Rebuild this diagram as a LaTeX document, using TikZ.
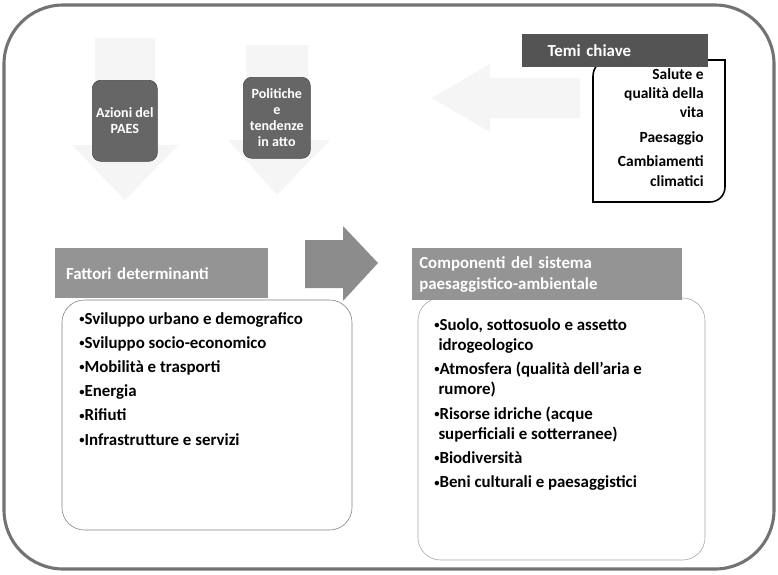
\documentclass[tikz,border=0pt]{standalone}
\usepackage{fontspec}
\setmainfont{Carlito}
\definecolor{framegray}{gray}{0.45}
\definecolor{hdrgray}{gray}{0.58}
\definecolor{arrowgray}{gray}{0.55}
\definecolor{darkbox}{gray}{0.40}
\definecolor{temigray}{gray}{0.33}
\definecolor{faintgray}{gray}{0.96}
\newcommand\bul{\raisebox{1.2pt}{\fontsize{7.5}{7.5}\selectfont •}}
\tikzset{
  header/.style={fill=hdrgray,anchor=north west,inner sep=4pt,text=white,
    font=\fontsize{12}{14}\selectfont\bfseries,align=left},
  bodytext/.style={anchor=north west,inner sep=0pt,align=left,
    font=\fontsize{12}{17.2}\selectfont\bfseries},
  smallbox/.style={fill=darkbox,draw=darkbox!70!black,rounded corners=6pt,anchor=north west,
    text=white,align=center,font=\fontsize{10}{11.4}\selectfont\bfseries,inner sep=1pt}
}
\begin{document}
\begin{tikzpicture}[x=0.025cm,y=-0.025cm]
  \useasboundingbox (0,0) rectangle (778,574);
  \fill[white] (0,0) rectangle (778,574);
  % outer frame
  \draw[framegray,line width=2.2pt,rounded corners=42pt] (4,5) rectangle (774,569);
  % faint arrows behind the small boxes
  \def \Faint{
    95/155/72/178/38/145/200,
    246/308/228/330/45/140/195}
  \foreach \l / \r / \bl / \br / \t / \h / \tip in \Faint{
    \fill[faintgray] (\l,\t) -- (\r,\t) -- (\r,\h) -- (\br,\h) -- ({(\l+\r)/2},\tip)
      -- (\bl,\h) -- (\l,\h) -- cycle;
  }
  \fill[faintgray] (580,78) -- (490,78) -- (490,64) -- (432,98) -- (490,132) -- (490,118)
    -- (580,118) -- cycle;
  % small boxes
  \node[smallbox,minimum width=1.625cm,minimum height=2.025cm] (azioni) at (92,80)
    {Azioni del\\PAES};
  \node[smallbox,minimum width=1.675cm,minimum height=2.025cm] (politiche) at (243,77)
    {Politiche\\e\\tendenze\\in atto};
  % temi chiave
  \draw[black,line width=1.1pt,fill=white] (593,76) -- (593,202) -- (710,202)
    to[out=0,in=270] (725,187) -- (725,60) -- (609,60) to[out=180,in=90] cycle;
  \node[header,fill=temigray,minimum width=4.65cm,minimum height=0.825cm,
    inner sep=0pt,text width=4.3cm] (temihdr) at (522,34) {\hspace*{13pt}Temi chiave};
  \node[anchor=north east,inner sep=0pt,align=right,
    font=\fontsize{11}{13.6}\selectfont\bfseries] (temi) at (704,68)
    {Salute e\\qualità della\\vita\\[4pt]Paesaggio\\[4pt]Cambiamenti\\climatici};
  % big arrow
  \fill[arrowgray] (305,240) -- (343,240) -- (343,226) -- (378,263) -- (343,301)
    -- (343,288) -- (305,288) -- cycle;
  % fattori determinanti
  \draw[gray,fill=white,rounded corners=16pt] (62,300) rectangle (352,530);
  \node[header,minimum width=5.325cm,minimum height=1.25cm,text width=5cm,inner sep=2pt]
    (fattorihdr) at (55,248) {\hspace*{3pt}Fattori determinanti};
  \node[bodytext] (fattori) at (79,312)
    {\bul Sviluppo urbano e demografico\\
     \bul Sviluppo socio-economico\\
     \bul Mobilità e trasporti\\
     \bul Energia\\
     \bul Rifiuti\\
     \bul Infrastrutture e servizi};
  % componenti
  \draw[gray!70,fill=white,rounded corners=16pt] (418,298) rectangle (705,560);
  \node[header,minimum width=6.75cm,minimum height=1.3cm,text width=6.4cm,inner sep=2pt,
    font=\fontsize{12}{15}\selectfont\bfseries] (comphdr) at (412,248)
    {Componenti del sistema\\paesaggistico-ambientale};
  \node[bodytext,font=\fontsize{12}{14.3}\selectfont\bfseries] (comp) at (434,318)
    {\bul Suolo, sottosuolo e assetto\\
     \hspace*{3pt}idrogeologico\\[3pt]
     \bul Atmosfera (qualità dell’aria e\\
     \hspace*{3pt}rumore)\\[3pt]
     \bul Risorse idriche (acque\\
     \hspace*{3pt}superficiali e sotterranee)\\[3pt]
     \bul Biodiversità\\[3pt]
     \bul Beni culturali e paesaggistici};
\end{tikzpicture}
\end{document}
